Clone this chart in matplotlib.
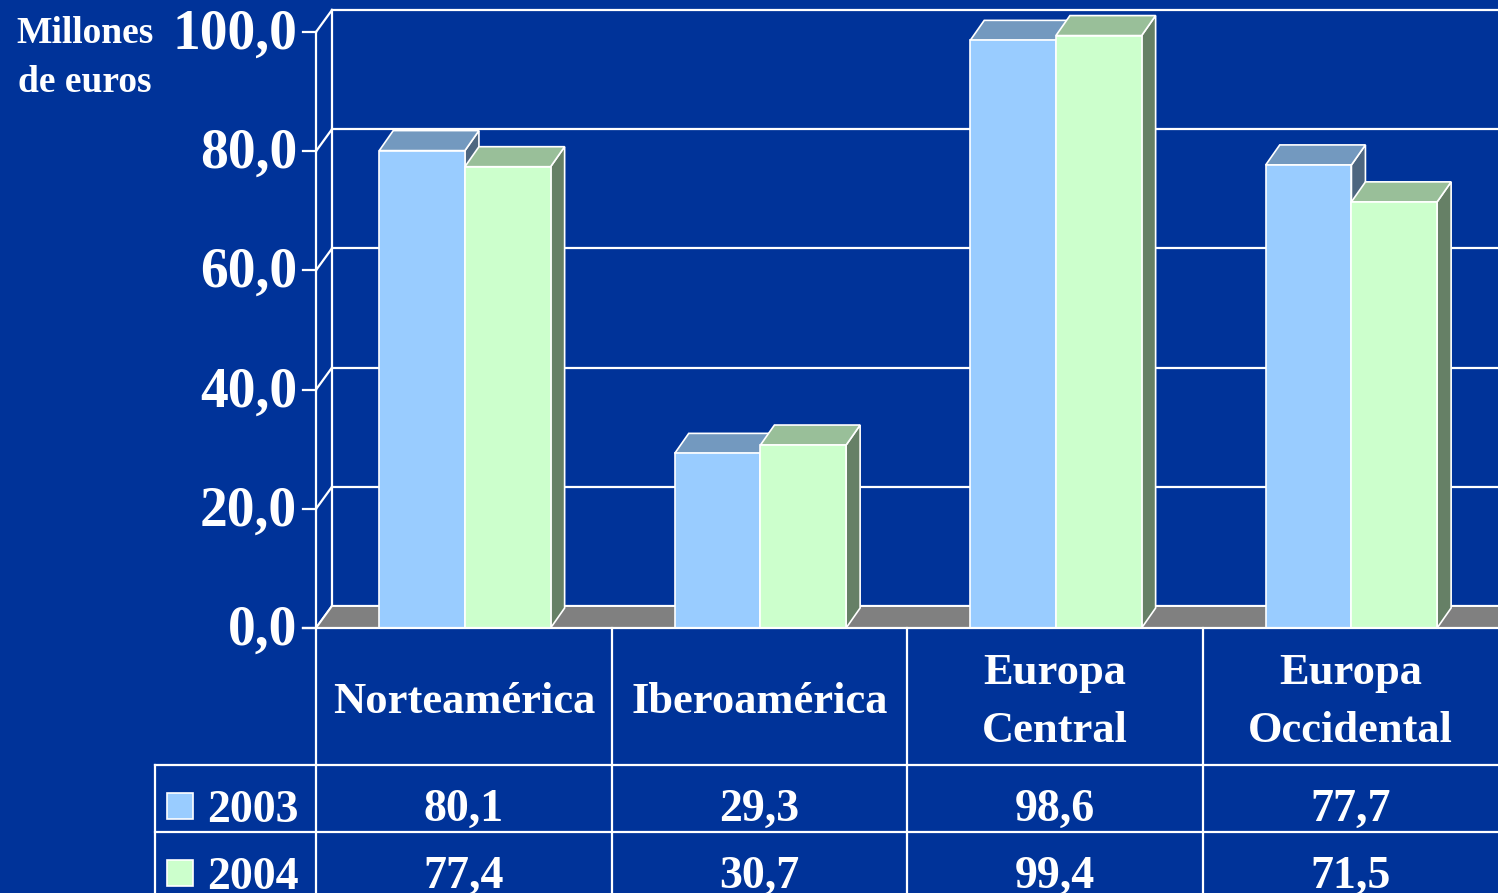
import matplotlib
matplotlib.use("Agg")
import matplotlib.pyplot as plt
from matplotlib.patches import Polygon
from matplotlib.lines import Line2D
from matplotlib.transforms import Affine2D, blended_transform_factory

# data (millones de euros)
regiones = ["Norteamérica", "Iberoamérica", "Europa\nCentral", "Europa\nOccidental"]
anios = ["2003", "2004"]
valores_2003 = [80.1, 29.3, 98.6, 77.7]
valores_2004 = [77.4, 30.7, 99.4, 71.5]
yticks = [0, 20, 40, 60, 80, 100]

BG = "#003399"
front_cols = ["#99CCFF", "#CCFFCC"]
top_cols = ["#7399BF", "#99BF99"]
side_cols = ["#4D6680", "#668066"]
FLOOR = "#808080"

W, H = 1498, 893
plt.rcParams["font.family"] = ["Liberation Serif", "DejaVu Serif"]
plt.rcParams["font.weight"] = "bold"

fig = plt.figure(figsize=(W / 100, H / 100), dpi=100, facecolor=BG)
# plot front plane: x from 316px to right edge, y=0 at 628px, y=100 at 32px
ax = fig.add_axes([316 / W, 1 - 628 / H, (W - 316) / W, (628 - 32) / H])
ax.set_xlim(-0.5, 3.5)
ax.set_ylim(0, 100)
ax.axis("off")
ax.patch.set_alpha(0)

# pixel helpers
pxfig = Affine2D().scale(1 / W, -1 / H).translate(0, 1) + fig.transFigure
xdata_ypx = blended_transform_factory(ax.transData, pxfig)
ux = 1.0 / (W - 316) * 4      # data units per pixel, x
uy = 100.0 / (628 - 32)       # data units per pixel, y

wdx, wdy = 16 * ux, 22 * uy   # wall depth
bdx, bdy = 14 * ux, 20 * uy   # bar depth
WHITE = "white"
x0 = -0.5

# back wall gridlines and side wall diagonals
for v in yticks:
    ax.plot([x0 + wdx, 3.5], [v + wdy, v + wdy], color=WHITE, lw=1.6, clip_on=False, zorder=1)
    ax.plot([x0, x0 + wdx], [v, v + wdy], color=WHITE, lw=1.6, clip_on=False, zorder=1)
    ax.plot([x0 - 13 * ux, x0], [v, v], color=WHITE, lw=1.6, clip_on=False, zorder=1)
    ax.text(x0 - 19 * ux, v - 0.45, f"{v:.1f}".replace(".", ","), color=WHITE,
            fontsize=40, fontweight="bold", ha="right", va="center", clip_on=False)
ax.plot([x0, x0], [0, 100], color=WHITE, lw=1.6, clip_on=False, zorder=1)
ax.plot([x0 + wdx, x0 + wdx], [wdy, 100 + wdy], color=WHITE, lw=1.6, clip_on=False, zorder=1)

# floor
ax.add_patch(Polygon([(x0, 0), (3.6, 0), (3.6, wdy), (x0 + wdx, wdy)], closed=True,
                     facecolor=FLOOR, edgecolor=WHITE, lw=1.4, clip_on=False, zorder=2))

# 3D bars
bw = 0.29
series = [valores_2003, valores_2004]
z = 3
for i in range(len(regiones)):
    for s, vals in enumerate(series):
        left = i - bw + s * bw + 0.004
        right = left + bw
        h = vals[i]
        side = Polygon([(right, 0), (right + bdx, bdy), (right + bdx, h + bdy), (right, h)],
                       closed=True, facecolor=side_cols[s], edgecolor=WHITE, lw=1.2, zorder=z)
        top = Polygon([(left, h), (left + bdx, h + bdy), (right + bdx, h + bdy), (right, h)],
                      closed=True, facecolor=top_cols[s], edgecolor=WHITE, lw=1.2, zorder=z)
        front = Polygon([(left, 0), (left, h), (right, h), (right, 0)],
                        closed=True, facecolor=front_cols[s], edgecolor=WHITE, lw=1.2, zorder=z)
        for p in (side, top, front):
            p.set_clip_on(False)
            ax.add_patch(p)
        z += 1

# data table below the plot
lk = dict(color=WHITE, lw=1.6, transform=pxfig, zorder=20)
fig.add_artist(Line2D([303, W], [628, 628], **lk))
fig.add_artist(Line2D([155, W], [765, 765], **lk))
fig.add_artist(Line2D([155, W], [832, 832], **lk))
fig.add_artist(Line2D([316, 316], [628, H], **lk))
fig.add_artist(Line2D([155, 155], [765, H], **lk))
for i in range(1, len(regiones)):
    ax.plot([i - 0.5, i - 0.5], [628, H], color=WHITE, lw=1.6, transform=xdata_ypx,
            clip_on=False, zorder=20)

for i, reg in enumerate(regiones):
    ax.text(i, 702, reg, transform=xdata_ypx, color=WHITE, fontsize=32, fontweight="bold",
            ha="center", va="center", linespacing=1.55, clip_on=False)
    for s, vals in enumerate(series):
        ax.text(i, 810 + 67 * s, f"{vals[i]:.1f}".replace(".", ","), transform=xdata_ypx,
                color=WHITE, fontsize=33, fontweight="bold", ha="center", va="center", clip_on=False)

for s, anio in enumerate(anios):
    yc = 806 + 67 * s
    fig.add_artist(Polygon([(167, yc - 13), (193, yc - 13), (193, yc + 13), (167, yc + 13)],
                           closed=True, facecolor=front_cols[s], edgecolor=WHITE, lw=1.2,
                           transform=pxfig))
    fig.text(207 / W, 1 - (yc + 5) / H, anio, color=WHITE, fontsize=33, fontweight="bold",
             ha="left", va="center")

fig.text(85 / W, 1 - 58 / H, "Millones\nde euros", color=WHITE, fontsize=27, fontweight="bold",
         ha="center", va="center", linespacing=1.55)

fig.savefig("out.png", dpi=100, facecolor=BG)
